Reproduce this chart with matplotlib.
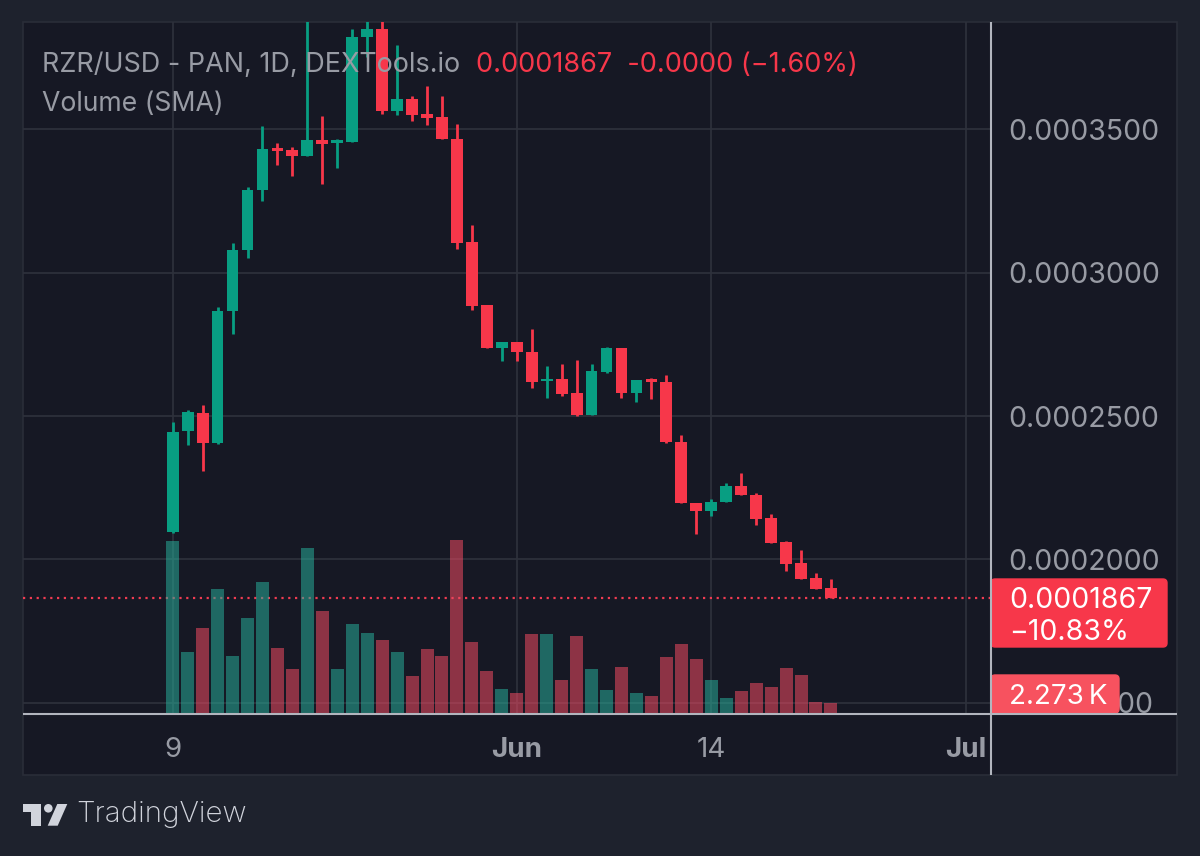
import numpy as np
import matplotlib
matplotlib.use("Agg")
import matplotlib.pyplot as plt
from matplotlib.patches import Rectangle, FancyBboxPatch, Polygon, Circle

plt.rcParams['font.family'] = ['Inter', 'DejaVu Sans']

# Prices in units of 1e-7 USD, one per daily candle
opens = [2095.6,2447.9,2510.7,2406.0,2866.4,3079.2,3288.5,3433.9,3428.0,3408.0,3461.8,3452.4,3454.9,3823.2,3851.1,
         3565.1,3604.8,3553.6,3543.1,3466.4,3106.0,2886.3,2738.4,2759.3,2724.5,2622.3,2628.2,2579.4,2504.8,2653.7,
         2738.4,2580.4,2628.2,2619.8,2409.5,2197.8,2167.8,2199.2,2257.1,2224.6,2143.4,2059.6,1986.4,1934.1,1899.2]
highs = [2479.3,2521.1,2538.6,2880.4,3104.6,3300.0,3511.7,3451.4,3439.5,3916.0,3546.6,3465.3,3849.0,3881.0,3881.0,
         3793.2,3616.4,3652.3,3617.4,3520.4,3167.4,2886.3,2759.3,2759.3,2804.7,2674.6,2680.5,2695.5,2680.5,2741.9,
         2738.4,2625.8,2632.7,2643.2,2432.9,2197.8,2209.6,2265.4,2302.4,2232.7,2158.4,2063.1,2031.8,1951.5,1931.6]
lows = [2092.1,2399.0,2308.4,2402.5,2786.2,3051.3,3250.1,3375.7,3337.3,3407.0,3309.4,3365.2,3454.9,3753.4,3553.6,
        3550.1,3528.1,3514.2,3465.3,3082.7,2869.9,2738.4,2693.1,2693.1,2598.9,2564.0,2570.0,2501.3,2504.8,2649.0,
        2564.0,2550.0,2559.5,2406.0,2197.8,2089.7,2150.4,2199.2,2223.6,2121.0,2056.2,1958.5,1932.7,1897.9,1867.0]
closes = [2444.4,2514.1,2406.0,2866.4,3079.2,3288.5,3430.4,3424.5,3408.0,3461.8,3448.9,3461.8,3823.2,3851.1,3565.1,
          3604.8,3551.1,3540.7,3465.3,3104.6,2884.9,2738.4,2759.3,2723.4,2619.8,2630.3,2576.9,2504.8,2657.2,2738.4,
          2580.4,2625.8,2619.8,2408.5,2197.8,2167.8,2201.3,2257.1,2223.6,2140.9,2056.2,1985.0,1932.7,1897.9,1867.0]
# Volume in thousands
volumes = [41.9,14.7,20.8,30.2,13.9,23.2,32.0,15.9,10.7,40.3,24.9,10.7,21.6,19.4,17.8,14.7,9.0,15.6,13.9,42.2,17.3,10.1,5.8,
           4.7,19.1,19.1,8.0,18.7,10.7,5.6,11.1,4.9,4.1,13.6,16.7,13.0,7.9,3.6,5.4,7.2,6.3,11.0,9.1,2.5,2.273]
volume_up = [1,1,0,1,1,1,1,0,0,1,0,1,1,1,0,1,0,0,0,0,0,0,1,0,0,1,0,0,1,1,0,1,0,0,0,0,1,1,0,0,0,0,0,0,0]

x_ticks = [0, 23, 36, 53]
x_labels = ['9', 'Jun', '14', 'Jul']
x_bold = [False, True, False, True]
y_ticks = [1500, 2000, 2500, 3000, 3500]
last_price = 1867.0

BG = '#1e222d'
PANE = '#161824'
GRID = '#2e313c'
UP = '#089e82'
DOWN = '#f7374a'
TXT = '#989ba4'

W, H = 1200, 856
fig = plt.figure(figsize=(12, 8.56), dpi=100, facecolor=BG)
fig.add_artist(Rectangle((23/W, 1-775/H), (1177-23)/W, (775-22)/H, transform=fig.transFigure,
                         facecolor=PANE, edgecolor='#2a2d38', lw=1.2, zorder=-1))

pos = [23/W, 1-713.5/H, (991-23)/W, (713.5-22)/H]
ax = fig.add_axes(pos)
ax.patch.set_visible(False)
ax.set_xlim(-10.007, 54.7)
ax.set_ylim(1462.5, 3874.5)
for s in ax.spines.values():
    s.set_visible(False)

ax2 = ax.twinx()
ax2.set_position(pos)
ax2.set_ylim(-0.22, 168.8)
ax2.set_yticks([])
for s in ax2.spines.values():
    s.set_visible(False)

ax.yaxis.tick_right()
ax.set_yticks(y_ticks)
ax.set_yticklabels([f'{v*1e-7:.7f}' for v in y_ticks], fontsize=20.5, color=TXT)
ax.tick_params(axis='y', length=0, pad=12.3)
ax.set_xticks(x_ticks)
ax.set_xticklabels(x_labels, fontsize=20, color=TXT)
for lab, b in zip(ax.get_xticklabels(), x_bold):
    lab.set_fontweight('bold' if b else 'normal')
ax.tick_params(axis='x', length=0, pad=17)
ax.grid(True, color=GRID, lw=1.25)
ax.set_axisbelow(True)

idx = np.arange(len(opens))
o, h, l, c = map(np.array, (opens, highs, lows, closes))
cols = [UP if ci >= oi else DOWN for oi, ci in zip(o, c)]
ax.vlines(idx, l, h, colors=cols, lw=2.0, zorder=3)
ax.bar(idx, np.abs(c-o), bottom=np.minimum(o, c), width=0.79, color=cols, zorder=4)
ax.axhline(last_price, color='#f03c52', lw=1.6, ls=(0, (1, 2.06)), zorder=2)

vcols = ['#28ab98' if u else '#f04a62' for u in volume_up]
ax2.bar(idx, volumes, width=0.87, color=vcols, alpha=0.55, lw=0)

ov = fig.add_axes([0, 0, 1, 1], zorder=10)
ov.set_xlim(0, W)
ov.set_ylim(H, 0)
ov.axis('off')
ov.plot([991, 991], [22, 775], color='#b2b5be', lw=1.5, solid_capstyle='butt')
ov.plot([23, 1177], [713.5, 713.5], color='#b2b5be', lw=1.5, solid_capstyle='butt')

ov.add_patch(FancyBboxPatch((991, 579), 176, 68, boxstyle='round,pad=0,rounding_size=4', fc=DOWN, ec=DOWN, lw=1))
ov.text(1009, 601, '0.0001867', color='white', fontsize=20.5, va='center')
ov.text(1009, 632, '\u221210.83%', color='white', fontsize=20.5, va='center')
ov.add_patch(FancyBboxPatch((991, 675), 128, 38, boxstyle='round,pad=0,rounding_size=4', fc='#f7525f', ec='#f7525f', lw=1))
ov.text(1009, 697, '2.273\u2009K', color='white', fontsize=20, va='center')

ov.text(42, 65, 'RZR/USD - PAN, 1D, DEXTools.io', color=TXT, fontsize=19.4, va='center')
ov.text(476, 65, '0.0001867  -0.0000 (\u22121.60%)', color=DOWN, fontsize=19.5, va='center')
ov.text(42, 104, 'Volume (SMA)', color=TXT, fontsize=19.2, va='center')

logo = '#d1d4dc'
ov.add_patch(Polygon([(22.7, 804), (40.7, 804), (40.7, 825.7), (31, 825.7), (31, 812.3), (22.7, 812.3)], fc=logo, lw=0))
ov.add_patch(Circle((48.3, 808.3), 4.3, fc=logo, lw=0))
ov.add_patch(Polygon([(57.3, 804), (67.3, 804), (57.7, 825.7), (47.7, 825.7)], fc=logo, lw=0))
ov.text(76, 815, 'TradingView', color=logo, fontsize=21.3, va='center', fontweight='light')

fig.savefig('out.png', dpi=100, facecolor=BG)
